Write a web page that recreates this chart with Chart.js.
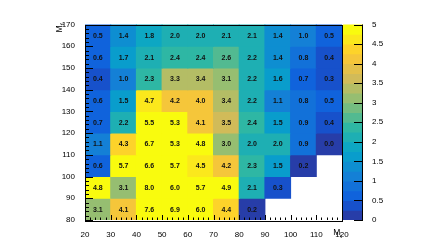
<!DOCTYPE html>
<html>
<head>
<meta charset="utf-8">
<script src="https://cdn.jsdelivr.net/npm/chart.js@4.4.0/dist/chart.umd.min.js"></script>
<style>
  body { margin: 0; background: #fff; }
  #wrap { position: relative; width: 427px; height: 245px; }
  canvas { position: absolute; left: 0; top: 0; }
</style>
</head>
<body>
<div id="wrap">
  <canvas id="heat" width="427" height="245"></canvas>
  <canvas id="zbar" width="427" height="245"></canvas>
</div>
<script>
// bin edges
var xEdges = [20, 30, 40, 50, 60, 70, 80, 90, 100, 110, 120];
var yEdges = [80, 90, 100, 110, 120, 130, 140, 150, 160, 170];

// one row per M_t' bin (named by low edge), null = empty bin
var row80  = [3.1, 4.1, 7.6, 6.9, 6.0, 4.4, 0.2, null, null, null];
var row90  = [4.8, 3.1, 8.0, 6.0, 5.7, 4.9, 2.1, 0.3, null, null];
var row100 = [0.6, 5.7, 6.6, 5.7, 4.5, 4.2, 2.3, 1.5, 0.2, null];
var row110 = [1.1, 4.3, 6.7, 5.3, 4.8, 3.0, 2.0, 2.0, 0.9, 0.0];
var row120 = [0.7, 2.2, 5.5, 5.3, 4.1, 3.5, 2.4, 1.5, 0.9, 0.4];
var row130 = [0.6, 1.5, 4.7, 4.2, 4.0, 3.4, 2.2, 1.1, 0.8, 0.5];
var row140 = [0.4, 1.0, 2.3, 3.3, 3.4, 3.1, 2.2, 1.6, 0.7, 0.3];
var row150 = [0.6, 1.7, 2.1, 2.4, 2.4, 2.6, 2.2, 1.4, 0.8, 0.4];
var row160 = [0.5, 1.4, 1.8, 2.0, 2.0, 2.1, 2.1, 1.4, 1.0, 0.5];

// colour scale
var zLevels = [0, 0.25, 0.5, 0.75, 1, 1.25, 1.5, 1.75, 2, 2.25, 2.5,
               2.75, 3, 3.25, 3.5, 3.75, 4, 4.25, 4.5, 4.75, 5];
var zTicks = [0, 0.5, 1, 1.5, 2, 2.5, 3, 3.5, 4, 4.5, 5];

var FONT = 'Liberation Sans, Arial, sans-serif';

// ROOT kBird palette
var stops = [0.0, 0.125, 0.25, 0.375, 0.5, 0.625, 0.75, 0.875, 1.0];
var red   = [0.2082, 0.0592, 0.0780, 0.0232, 0.1802, 0.5301, 0.8186, 0.9956, 0.9764];
var green = [0.1664, 0.3599, 0.5041, 0.6419, 0.7178, 0.7492, 0.7328, 0.7862, 0.9832];
var blue  = [0.5293, 0.8684, 0.8385, 0.7914, 0.6425, 0.4662, 0.3499, 0.1968, 0.0539];

function birdColor(f) {
    var i = 0;
    while (i < stops.length - 2 && f > stops[i + 1]) i++;
    var t = (f - stops[i]) / (stops[i + 1] - stops[i]);
    var r = red[i] + t * (red[i + 1] - red[i]);
    var g = green[i] + t * (green[i + 1] - green[i]);
    var b = blue[i] + t * (blue[i + 1] - blue[i]);
    return 'rgb(' + Math.round(r * 255) + ',' + Math.round(g * 255) + ',' + Math.round(b * 255) + ')';
}

// colour of contour level k (like TH2 COLZ with 20 levels)
function levelColor(k) {
    var n = zLevels.length - 1;
    var idx = Math.floor((k + 0.99) * 255 / n);
    return birdColor(Math.min(idx, 254) / 254);
}

function valueLevel(v) {
    var n = zLevels.length - 1;
    for (var k = n - 1; k >= 0; k--) {
        if (v >= zLevels[k]) return k;
    }
    return 0;
}

// build cells
var rows = [row80, row90, row100, row110, row120, row130, row140, row150, row160];
var cells = [], cellColors = [], cellValues = [];
rows.forEach(function (row, j) {
    row.forEach(function (v, i) {
        if (v === null) return;
        cells.push({ x: (xEdges[i] + xEdges[i + 1]) / 2, y: [yEdges[j], yEdges[j + 1]] });
        cellColors.push(levelColor(valueLevel(v)));
        cellValues.push(v);
    });
});

// inward ROOT style ticks, frame, cell texts, axis titles
var heatDecor = {
    id: 'heatDecor',
    afterDatasetsDraw: function (chart) {
        var ctx = chart.ctx;
        var meta = chart.getDatasetMeta(0);
        ctx.save();
        ctx.fillStyle = '#111';
        ctx.font = 'bold 7px ' + FONT;
        ctx.textAlign = 'center';
        ctx.textBaseline = 'middle';
        meta.data.forEach(function (bar, i) {
            var c = bar.getCenterPoint();
            ctx.fillText(cellValues[i].toFixed(1), c.x, c.y + 0.5);
        });
        ctx.restore();
    },
    afterDraw: function (chart) {
        var ctx = chart.ctx;
        var a = chart.chartArea;
        var xs = chart.scales.x, ys = chart.scales.y;
        ctx.save();
        ctx.strokeStyle = '#000';
        ctx.lineWidth = 1;
        ctx.strokeRect(Math.round(a.left) + 0.5, Math.round(a.top) + 0.5,
                       Math.round(a.right - a.left), Math.round(a.bottom - a.top));
        ctx.beginPath();
        for (var v = xEdges[0]; v <= xEdges[xEdges.length - 1]; v += 2) {
            var px = Math.round(xs.getPixelForValue(v)) + 0.5;
            var len = (v % 10 === 0) ? 5 : 2.5;
            ctx.moveTo(px, a.bottom);
            ctx.lineTo(px, a.bottom - len);
        }
        for (var w = yEdges[0]; w <= yEdges[yEdges.length - 1]; w += 2) {
            var py = Math.round(ys.getPixelForValue(w)) + 0.5;
            var l2 = (w % 10 === 0) ? 8 : 4;
            ctx.moveTo(a.left, py);
            ctx.lineTo(a.left + l2, py);
        }
        ctx.stroke();

        // x title M_t
        ctx.fillStyle = '#000';
        ctx.textBaseline = 'alphabetic';
        ctx.textAlign = 'left';
        ctx.font = '8.5px ' + FONT;
        var wM = ctx.measureText('M').width;
        ctx.font = '6px ' + FONT;
        var wt = ctx.measureText('t').width;
        var x0 = a.right - wM - wt;
        ctx.font = '8.5px ' + FONT;
        ctx.fillText('M', x0, 235);
        ctx.font = '6px ' + FONT;
        ctx.fillText('t', x0 + wM, 237.5);

        // y title M_t'
        ctx.translate(62, a.top - 2);
        ctx.rotate(-Math.PI / 2);
        ctx.font = '6px ' + FONT;
        var ws = ctx.measureText("t'").width;
        ctx.font = '8.5px ' + FONT;
        ctx.fillText('M', -wM - ws, 0);
        ctx.font = '6px ' + FONT;
        ctx.fillText("t'", -ws, 2);
        ctx.restore();
    }
};

new Chart(document.getElementById('heat').getContext('2d'), {
    type: 'bar',
    data: {
        datasets: [{
            data: cells,
            backgroundColor: cellColors,
            borderWidth: 0,
            inflateAmount: 0.5,
            barPercentage: 1,
            categoryPercentage: 1
        }]
    },
    options: {
        responsive: false,
        animation: false,
        layout: { padding: { left: 0, top: 24.5, right: 85, bottom: 0 } },
        plugins: { legend: { display: false }, tooltip: { enabled: false } },
        scales: {
            x: {
                type: 'linear',
                min: xEdges[0],
                max: xEdges[xEdges.length - 1],
                offset: false,
                grid: { display: false, offset: false },
                border: { display: false },
                ticks: {
                    stepSize: 10, autoSkip: false, maxRotation: 0, padding: 2,
                    color: '#000', font: { family: FONT, size: 8 }
                },
                afterFit: function (s) { s.height = 25; }
            },
            y: {
                min: yEdges[0],
                max: yEdges[yEdges.length - 1],
                grid: { display: false },
                border: { display: false },
                ticks: {
                    stepSize: 10, autoSkip: false, padding: 2,
                    color: '#000', font: { family: FONT, size: 8 }
                },
                afterFit: function (s) { s.width = 85; }
            }
        }
    },
    plugins: [heatDecor]
});

// colour bar
var bandData = [], bandColors = [];
for (var k = 0; k < zLevels.length - 1; k++) {
    bandData.push({ x: 'z', y: [zLevels[k], zLevels[k + 1]] });
    bandColors.push(levelColor(k));
}

var zDecor = {
    id: 'zDecor',
    afterDraw: function (chart) {
        var ctx = chart.ctx;
        var a = chart.chartArea;
        var ys = chart.scales.y;
        ctx.save();
        ctx.strokeStyle = '#000';
        ctx.lineWidth = 1;
        ctx.beginPath();
        ctx.moveTo(Math.round(a.right) - 0.5, a.top);
        ctx.lineTo(Math.round(a.right) - 0.5, a.bottom);
        zTicks.forEach(function (t) {
            var py = Math.round(ys.getPixelForValue(t)) + 0.5;
            ctx.moveTo(a.right, py);
            ctx.lineTo(a.right - 9, py);
        });
        ctx.stroke();
        ctx.restore();
    }
};

new Chart(document.getElementById('zbar').getContext('2d'), {
    type: 'bar',
    data: {
        labels: ['z'],
        datasets: [{
            data: bandData,
            backgroundColor: bandColors,
            borderWidth: 0,
            inflateAmount: 0.5,
            barPercentage: 1,
            categoryPercentage: 1
        }]
    },
    options: {
        responsive: false,
        animation: false,
        events: [],
        layout: { padding: { left: 343, top: 24.5, right: 0, bottom: 25 } },
        plugins: { legend: { display: false }, tooltip: { enabled: false } },
        scales: {
            x: { display: false },
            y: {
                position: 'right',
                min: zTicks[0],
                max: zTicks[zTicks.length - 1],
                grid: { display: false },
                border: { display: false },
                afterBuildTicks: function (s) {
                    s.ticks = zTicks.map(function (t) { return { value: t }; });
                },
                ticks: {
                    padding: 1, color: '#000', font: { family: FONT, size: 8 },
                    callback: function (v) { return String(v); }
                },
                afterFit: function (s) { s.width = 64; }
            }
        }
    },
    plugins: [zDecor]
});
</script>
</body>
</html>
